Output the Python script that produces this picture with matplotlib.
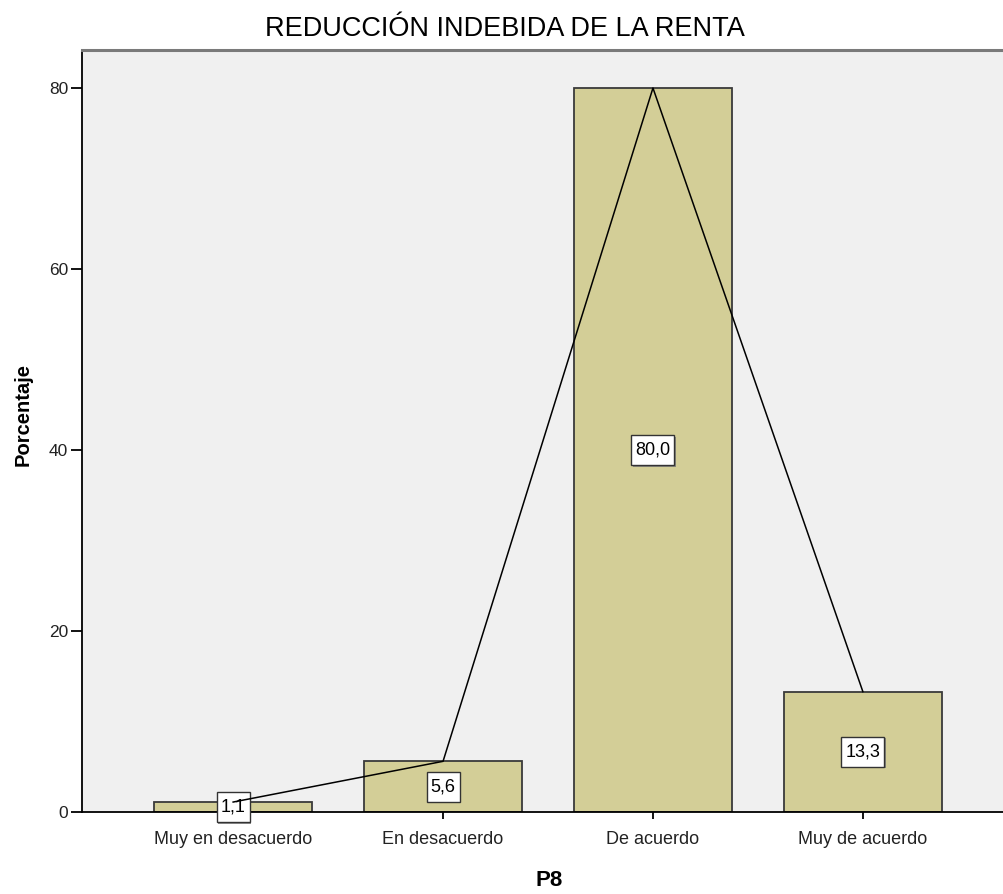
import matplotlib
matplotlib.use("Agg")
import matplotlib.pyplot as plt
import matplotlib.patheffects as pe
from matplotlib.path import Path

plt.rcParams["font.family"] = ["Liberation Sans", "DejaVu Sans"]

# data
categories = ["Muy en desacuerdo", "En desacuerdo", "De acuerdo", "Muy de acuerdo"]
percentages = [1.1, 5.6, 80.0, 13.3]
y_ticks = [0, 20, 40, 60, 80]

BG = "#F0F0F0"
BAR = "#D3CE97"
EDGE = "#3A3A3A"


def label_box(x0, y0, width, height, mutation_size):
    # SPSS label boxes are a bit taller than wide padding would give
    px = 0.22 * mutation_size
    py = 0.36 * mutation_size
    x0, y0 = x0 - px, y0 - py
    x1, y1 = x0 + width + 2 * px, y0 + height + 2 * py
    return Path([(x0, y0), (x1, y0), (x1, y1), (x0, y1), (x0, y0)], closed=True)


fig = plt.figure(figsize=(10.04, 8.94), dpi=100)
fig.patch.set_facecolor("white")
# plot area runs slightly past the right edge, like the cropped original
ax = fig.add_axes([82 / 1004, 82 / 894, 932 / 1004, 762 / 894])
ax.set_facecolor(BG)

x = list(range(len(categories)))
ax.bar(x, percentages, width=0.755, color=BAR, edgecolor=EDGE, linewidth=1.3, zorder=2)

# value labels at mid-height of each bar
for xi, v in zip(x, percentages):
    t = ax.text(
        xi, v / 2, f"{v:.1f}".replace(".", ","),
        ha="center", va="center", fontsize=13, color="black", zorder=3,
        bbox=dict(boxstyle=label_box, facecolor="white", edgecolor="#333333", linewidth=1),
    )
    t.get_bbox_patch().set_path_effects(
        [pe.SimplePatchShadow(offset=(1.2, -1.2), shadow_rgbFace="#777777", alpha=0.8), pe.Normal()]
    )

# polygon line through bar tops
ax.plot(x, percentages, color="black", linewidth=1.1, zorder=4)

ax.set_xlim(-0.72, 3.72)
ax.set_ylim(0, 84.2)
ax.set_xticks(x)
ax.set_xticklabels(categories, fontsize=13, color="#222222")
ax.set_yticks(y_ticks)
ax.set_yticklabels([str(t) for t in y_ticks], fontsize=12.5, color="#222222")
ax.tick_params(axis="x", length=5, width=1.3, pad=9, color="black")
ax.tick_params(axis="y", length=8, width=1.3, pad=2, color="black")

for side in ["left", "bottom"]:
    ax.spines[side].set_color("black")
    ax.spines[side].set_linewidth(1.3)
ax.spines["top"].set_color("#7A7A7A")
ax.spines["top"].set_linewidth(2.2)
ax.spines["right"].set_visible(False)

fig.text(505 / 1004, 1 - 29 / 894, "REDUCCIÓN INDEBIDA DE LA RENTA",
         ha="center", va="center", fontsize=19.5, color="black")
fig.text(549 / 1004, 1 - 881 / 894, "P8",
         ha="center", va="center", fontsize=16, fontweight="bold", color="black")
fig.text(23.5 / 1004, 1 - 414 / 894, "Porcentaje", rotation=90,
         ha="center", va="center", fontsize=14.5, fontweight="bold", color="black")

fig.savefig("out.png", dpi=100, facecolor="white")
